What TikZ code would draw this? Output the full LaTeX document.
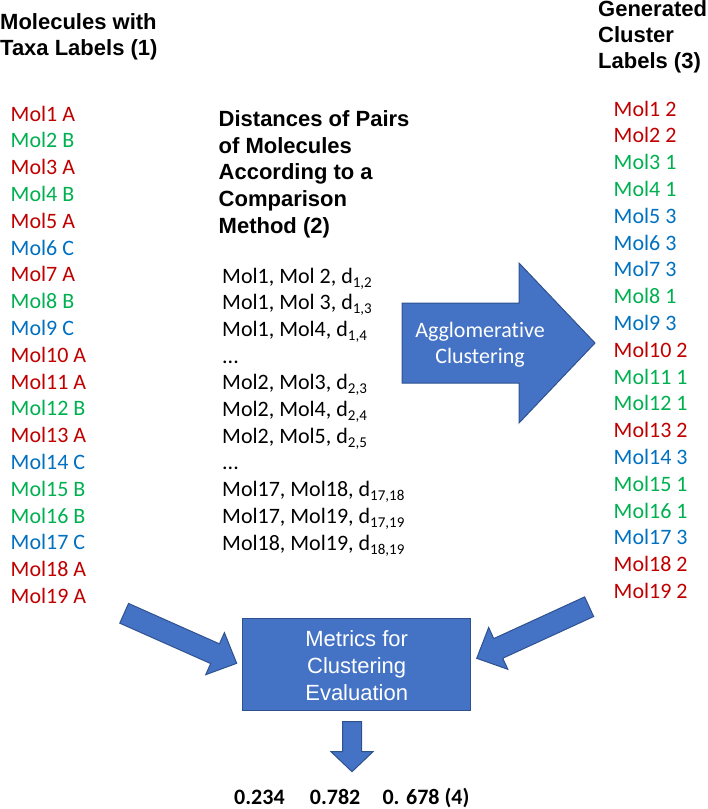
\documentclass[tikz,border=0pt]{standalone}
\usepackage{fontspec}
\setmainfont{Carlito}[Ligatures=NoCommon]
\newfontfamily\arialfont{Liberation Sans}
\definecolor{mred}{HTML}{C00000}
\definecolor{mgreen}{HTML}{00B050}
\definecolor{mblue}{HTML}{0070C0}
\definecolor{shapefill}{HTML}{4472C4}
\definecolor{shapeedge}{HTML}{2F528F}
\newcommand\sbs[1]{\raisebox{-4pt}{\fontsize{15}{15}\selectfont#1}}
\begin{document}
\begin{tikzpicture}[x=1pt,y=-1pt,
  txt/.style={anchor=base west, inner sep=0pt, font=\fontsize{22}{26.7}\selectfont},
  hdr/.style={anchor=base west, inner sep=0pt, font=\arialfont\bfseries\fontsize{22}{26}\selectfont},
  midhdr/.style={anchor=base west, inner sep=0pt, font=\arialfont\bfseries\fontsize{22}{26}\selectfont},
  wtxt/.style={anchor=base, inner sep=0pt, text=white, font=\fontsize{22}{26.7}\selectfont},
  warial/.style={anchor=base, inner sep=0pt, text=white, font=\arialfont\fontsize{22}{26.7}\selectfont},
  numtxt/.style={anchor=base west, inner sep=0pt, font=\bfseries\fontsize{22}{26.7}\selectfont},
  blockarrow/.style={fill=shapefill, draw=shapeedge, line width=1pt, line join=miter},
  metricbox/.style={rectangle, fill=shapefill, draw=shapeedge, line width=1pt,
    minimum width=228pt, minimum height=91.7pt, inner sep=0pt}]
\useasboundingbox (0,0) rectangle (708,809);

% headers
\node[hdr] (h1a) at (0,29) {Molecules with};
\node[hdr] (h1b) at (0,55) {Taxa Labels (1)};
\node[midhdr] (h2a) at (218.5,126.7) {Distances of Pairs};
\node[midhdr] (h2b) at (218.5,153.3) {of Molecules};
\node[midhdr] (h2c) at (218.5,179.9) {According to a};
\node[midhdr] (h2d) at (218.5,206.5) {Comparison};
\node[midhdr] (h2e) at (218.5,233.1) {Method (2)};
\node[hdr] (h3a) at (598,16.2) {Generated};
\node[hdr] (h3b) at (598,42.3) {Cluster};
\node[hdr] (h3c) at (598,68.6) {Labels (3)};

% left list
\foreach \t/\c [count=\i] in {Mol1 A/mred, Mol2 B/mgreen, Mol3 A/mred, Mol4 B/mgreen,
  Mol5 A/mred, Mol6 C/mblue, Mol7 A/mred, Mol8 B/mgreen, Mol9 C/mblue, Mol10 A/mred,
  Mol11 A/mred, Mol12 B/mgreen, Mol13 A/mred, Mol14 C/mblue, Mol15 B/mgreen,
  Mol16 B/mgreen, Mol17 C/mblue, Mol18 A/mred, Mol19 A/mred}
  \node[txt, text=\c] (L\i) at (10.5,{121+(\i-1)*26.8}) {\t};

% right list
\foreach \t/\c [count=\i] in {Mol1 2/mred, Mol2 2/mred, Mol3 1/mgreen, Mol4 1/mgreen,
  Mol5 3/mblue, Mol6 3/mblue, Mol7 3/mblue, Mol8 1/mgreen, Mol9 3/mblue, Mol10 2/mred,
  Mol11 1/mgreen, Mol12 1/mgreen, Mol13 2/mred, Mol14 3/mblue, Mol15 1/mgreen,
  Mol16 1/mgreen, Mol17 3/mblue, Mol18 2/mred, Mol19 2/mred}
  \node[txt, text=\c] (R\i) at (613.5,{116+(\i-1)*26.8}) {\t};

% middle list
\node[txt] (M0) at (222,283) {Mol1, Mol 2, d\sbs{1,2}};
\node[txt] (M1) at (222,309.7) {Mol1, Mol 3, d\sbs{1,3}};
\node[txt] (M2) at (222,336.4) {Mol1, Mol4, d\sbs{1,4}};
\node[txt] (M3) at (222,363.1) {...};
\node[txt] (M4) at (222,389.8) {Mol2, Mol3, d\sbs{2,3}};
\node[txt] (M5) at (222,416.5) {Mol2, Mol4, d\sbs{2,4}};
\node[txt] (M6) at (222,443.2) {Mol2, Mol5, d\sbs{2,5}};
\node[txt] (M7) at (222,469.9) {...};
\node[txt] (M8) at (222,496.6) {Mol17, Mol18, d\sbs{17,18}};
\node[txt] (M9) at (222,523.3) {Mol17, Mol19, d\sbs{17,19}};
\node[txt] (M10) at (222,550) {Mol18, Mol19, d\sbs{18,19}};

% big arrow
\draw[blockarrow] (402,303) -- (519,303) -- (519,263) -- (595,343) -- (519,423)
  -- (519,383) -- (402,383) -- cycle;
\node[wtxt] (ag1) at (480,337) {Agglomerative};
\node[wtxt] (ag2) at (480,363) {Clustering};

% metrics box
\node[metricbox] (metrics) at (356.7,664.2) {};
\node[warial] (me1) at (356.7,646.7) {Metrics for};
\node[warial] (me2) at (356.7,673.3) {Clustering};
\node[warial] (me3) at (356.7,700) {Evaluation};

% left block arrow
\draw[blockarrow] (128.53,603.43) -- (219.43,643.82) -- (224.39,632.68) -- (236.71,663.31)
  -- (205.71,674.70) -- (210.67,663.56) -- (119.77,623.17) -- cycle;
% right block arrow
\draw[blockarrow] (584.65,596.88) -- (493.75,638.59) -- (488.66,627.50) -- (476.71,658.30)
  -- (507.84,669.32) -- (502.75,658.23) -- (593.65,616.52) -- cycle;
% down arrow
\draw[blockarrow] (342.5,721.7) -- (361.5,721.7) -- (361.5,751.7) -- (373,751.7)
  -- (352,771.7) -- (331,751.7) -- (342.5,751.7) -- cycle;

% results
\node[numtxt] (r1) at (234,804) {0.234};
\node[numtxt] (r2) at (309.7,804) {0.782};
\node[numtxt] (r3) at (382.3,804) {0. 678 (4)};
\end{tikzpicture}
\end{document}
